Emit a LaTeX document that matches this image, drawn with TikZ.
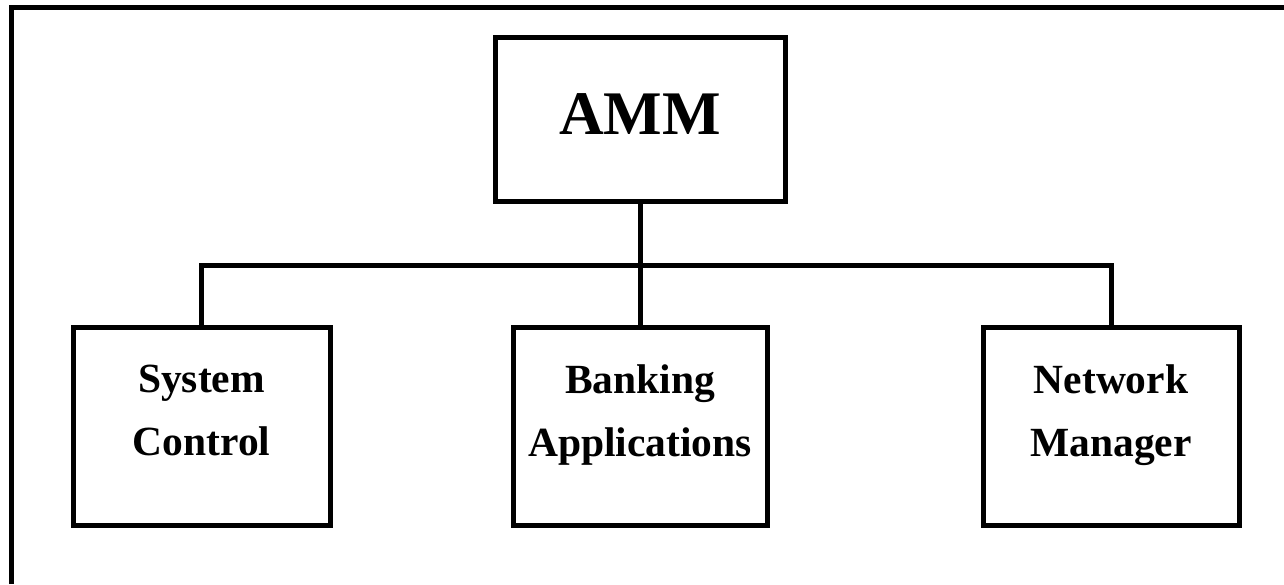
\documentclass[tikz,border=0pt]{standalone}
\usepackage{fontspec}
\setmainfont{Liberation Serif}
\usetikzlibrary{positioning}
\tikzset{
	unit/.style={draw,line width=5pt,outer sep=0pt,inner sep=0pt,minimum width=256pt,minimum height=197pt},
	boxtext/.style={inner sep=0pt,align=center,font=\bfseries\fontsize{41.5}{63}\selectfont},
	wire/.style={line width=5pt}
}
\begin{document}
\begin{tikzpicture}[x=1pt,y=1pt]
	\useasboundingbox (0,0) rectangle (1284,584);
	%Frame
	\draw[wire] (11.5,0)--(11.5,576.5)--(1284,576.5);
	%Depth 0
	\node[unit,minimum width=290pt,minimum height=164pt] (amm) at (640,464) {};
	\node[boxtext,font=\bfseries\fontsize{62}{62}\selectfont,below=55pt of amm.north] (ammtext) {AMM};
	\coordinate (bus) at (640,318);
	%Depth 1
	\node[unit,minimum width=257pt] (sys) at (201.5,157.5) {};
	\node[unit,minimum width=254pt] (bank) at (640,157.5) {};
	\node[unit] (net) at (1111,157.5) {};
	\node[boxtext,below=37pt of sys.north] (systext) {System\\Control};
	\node[boxtext,below=37pt of bank.north] (banktext) {Banking\\Applications};
	\node[boxtext,below=37pt of net.north] (nettext) {Network\\Manager};
	%Connectors
	\draw[wire] (amm.south)--(bank.north);
	\draw[wire] (sys.north) |- (bus) -| (net.north);
\end{tikzpicture}
\end{document}
